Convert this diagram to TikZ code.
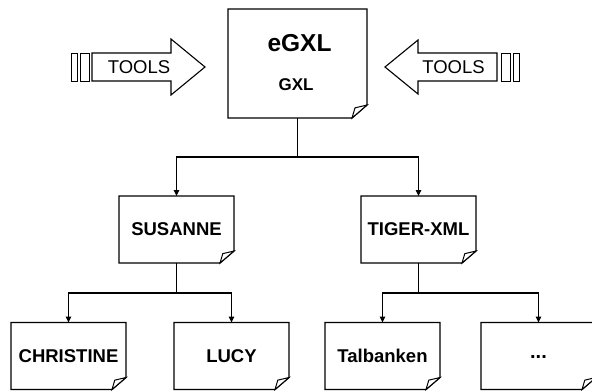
\documentclass[tikz,border=0pt]{standalone}
\usepackage{fontspec}
\setmainfont{Liberation Sans}
\usetikzlibrary{arrows.meta}
\begin{document}
\begin{tikzpicture}[x=1pt,y=-1pt,
  line width=1.3pt, line join=miter,
  doc/.style={minimum width=115pt, minimum height=67pt, inner sep=0pt, outer sep=0pt,
    font=\fontsize{18.5}{20}\selectfont\bfseries},
  conn/.style={line width=1.2pt},
  arr/.style={conn, -{Triangle[length=6pt,width=5.5pt]}},
  blockarrow/.style={line width=1.1pt},
  tool/.style={font=\fontsize{18.5}{20}\selectfont, inner sep=0pt},
  ]
\useasboundingbox (0,0) rectangle (592,391);

% document boxes
\node[doc, minimum width=139pt, minimum height=109pt] (egxl) at (297.5,63.5) {};
\node[font=\fontsize{24.5}{26}\selectfont\bfseries, inner sep=0pt] (title) at (299.5,43) {eGXL};
\node[font=\fontsize{17}{18}\selectfont\bfseries, inner sep=0pt] (sub) at (296,84.5) {GXL};

\node[doc] (sus)  at (176.5,229.5) {SUSANNE};
\node[doc] (tig)  at (418.5,229.5) {TIGER-XML};
\node[doc] (chr)  at (68.5,356) {CHRISTINE};
\node[doc] (lucy) at (231.5,356) {LUCY};
\node[doc] (talb) at (382.5,356) {Talbanken};
\node[doc, font=\fontsize{20}{22}\selectfont\bfseries] (more) at (538.5,356) {\raisebox{-4pt}{...}};

% outlines with a folded lower right corner
\foreach \n/\fx/\fy in {egxl/15/13, sus/14/12, tig/14/12, chr/14/12, lucy/14/12, talb/14/12, more/14/12} {
  \draw (\n.north west) -- (\n.north east) -- ([yshift=\fy pt]\n.south east)
        -- ([xshift=-\fx pt]\n.south east) -- (\n.south west) -- cycle;
  \draw[line width=1pt, fill=white] ([xshift=-\fx pt]\n.south east)
        -- ([xshift={-0.8*\fx*1pt}, yshift={0.78*\fy*1pt}]\n.south east)
        -- ([yshift=\fy pt]\n.south east) -- cycle;
}

% tree connectors
\coordinate (j1) at (297.5,157);
\coordinate (j2) at (176.5,293);
\coordinate (j3) at (418.5,293);
\draw[conn] (egxl.south) -- (j1);
\draw[arr] (j1) -| (sus.north);
\draw[arr] (j1) -| (tig.north);
\draw[conn] (sus.south) -- (j2);
\draw[arr] (j2) -| (chr.north);
\draw[arr] (j2) -| (lucy.north);
\draw[conn] (tig.south) -- (j3);
\draw[arr] (j3) -| (talb.north);
\draw[arr] (j3) -| (more.north);

% left TOOLS arrow
\draw[blockarrow] (92,53) -- (171,53) -- (171,39) -- (205,67) -- (171,95) -- (171,81) -- (92,81) -- cycle;
\draw[line width=0.9pt] (71,53) rectangle (77,81);
\draw[line width=0.9pt] (80,53) rectangle (89,81);
\node[tool] (toolsL) at (139,67) {TOOLS};

% right TOOLS arrow
\draw[blockarrow] (497,53) -- (418,53) -- (418,40) -- (385,67) -- (418,94) -- (418,81) -- (497,81) -- cycle;
\draw[line width=0.9pt] (501,53) rectangle (510,81);
\draw[line width=0.9pt] (513,53) rectangle (519,81);
\node[tool] (toolsR) at (453.5,67) {TOOLS};
\end{tikzpicture}
\end{document}
